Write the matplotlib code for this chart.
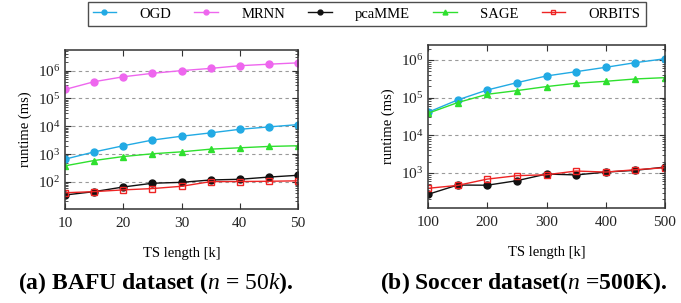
import matplotlib
matplotlib.use("Agg")
import matplotlib.pyplot as plt
import matplotlib.ticker as mtick

plt.rcParams["font.family"] = ["Liberation Serif", "DejaVu Serif"]
plt.rcParams["mathtext.fontset"] = "custom"
plt.rcParams["mathtext.rm"] = "Liberation Serif"
plt.rcParams["mathtext.it"] = "Liberation Serif:italic"
plt.rcParams["mathtext.bf"] = "Liberation Serif:bold"

METHODS = ["OGD", "MRNN", "pcaMME", "SAGE", "ORBITS"]
COLORS = {"OGD": "#22AAE4", "MRNN": "#EE66EE", "pcaMME": "#111111",
          "SAGE": "#2EE02E", "ORBITS": "#EE2424"}
MARKERS = {"OGD": "o", "MRNN": "o", "pcaMME": "o", "SAGE": "^", "ORBITS": "s"}

# (a) BAFU dataset, TS length in k
bafu_x = [10, 15, 20, 25, 30, 35, 40, 45, 50]
bafu = {
    "OGD":    [660, 1200, 2000, 3200, 4400, 5800, 7800, 9500, 11500],
    "MRNN":   [2.1e5, 4.0e5, 6.0e5, 8.0e5, 1.0e6, 1.2e6, 1.5e6, 1.7e6, 1.9e6],
    "pcaMME": [34, 45, 66, 90, 97, 118, 125, 150, 174],
    "SAGE":   [380, 590, 820, 1030, 1210, 1510, 1690, 1890, 2000],
    "ORBITS": [41, 45, 52, 58, 70, 103, 104, 106, 110],
}

# (b) Soccer dataset, TS length in k
soccer_x = [100, 150, 200, 250, 300, 350, 400, 450, 500]
soccer = {
    "OGD":    [41000, 87000, 160000, 250000, 377000, 490000, 640000, 850000, 1.08e6],
    "SAGE":   [38500, 74000, 123000, 154000, 197000, 241000, 272000, 314000, 340000],
    "pcaMME": [272, 480, 475, 626, 940, 890, 1060, 1180, 1440],
    "ORBITS": [393, 470, 690, 850, 900, 1130, 1060, 1225, 1385],
}

W, H = 681, 303
fig = plt.figure(figsize=(W / 100, H / 100), dpi=100)


def px_axes(left, top, right, bottom):
    return fig.add_axes([left / W, 1 - bottom / H, (right - left) / W, (bottom - top) / H])


def style(ax, xticks, xlim, ylim):
    ax.set_yscale("log")
    ax.set_xlim(*xlim)
    ax.set_ylim(*ylim)
    ax.set_xticks(xticks)
    ax.yaxis.set_major_locator(mtick.LogLocator(base=10, numticks=12))
    ax.yaxis.set_minor_locator(mtick.LogLocator(base=10, subs=range(2, 10), numticks=12))
    ax.yaxis.set_minor_formatter(mtick.NullFormatter())
    ax.tick_params(which="both", direction="in", top=True, right=True,
                   colors="#333333", labelcolor="#222222", labelsize=11)
    ax.tick_params(axis="x", which="major", pad=6)
    ax.tick_params(which="major", length=4, width=0.8)
    ax.tick_params(which="minor", length=2, width=0.6)
    ax.grid(axis="y", which="major", color="#9a9a9a", linestyle=(0, (3, 3)), linewidth=0.8)
    ax.set_axisbelow(True)
    for s in ax.spines.values():
        s.set_color("#333333")
        s.set_linewidth(1.1)
    ax.set_xlabel("TS length [k]", fontsize=10.5, labelpad=12)
    ax.set_ylabel("runtime (ms)", fontsize=10.5, labelpad=4)


def draw(ax, xs, data, order):
    for m in order:
        if m not in data:
            continue
        face = "none" if m == "ORBITS" else COLORS[m]
        ax.plot(xs, data[m], color=COLORS[m], marker=MARKERS[m], markersize=5,
                markerfacecolor=face, markeredgecolor=COLORS[m], markeredgewidth=1.0,
                linewidth=1.0, label=m)


ax1 = px_axes(65, 50, 298, 209)
draw(ax1, bafu_x, bafu, METHODS)
style(ax1, [10, 20, 30, 40, 50], (10, 50), (10.7, 5.5e6))

ax2 = px_axes(428, 45, 665, 208)
draw(ax2, soccer_x, soccer, METHODS)
style(ax2, [100, 200, 300, 400, 500], (100, 500), (118, 2.5e6))

handles, labels = ax1.get_legend_handles_labels()
leg = fig.legend(handles, labels, loc="center", bbox_to_anchor=(366.5 / W, 1 - 14 / H),
                 ncol=5, fontsize=10.5, frameon=True, fancybox=False, markerscale=0.7,
                 handlelength=1.6, handletextpad=1.6, columnspacing=1.6,
                 borderpad=0.35, edgecolor="#222222")
leg.get_frame().set_linewidth(1.0)

fig.text(156 / W, 1 - 283 / H, r"(a) BAFU dataset ($n$ = $50k$).", ha="center", va="center",
         fontsize=17, fontweight="bold")
fig.text(524 / W, 1 - 283 / H, r"(b) Soccer dataset($n$ =500K).", ha="center", va="center",
         fontsize=17, fontweight="bold")

fig.savefig("out.png", dpi=100)
